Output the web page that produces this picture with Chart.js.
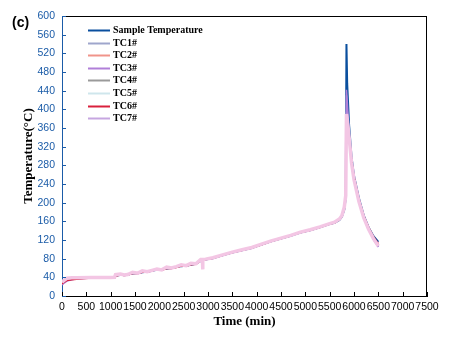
<!DOCTYPE html>
<html><head><meta charset="utf-8">
<script src="https://cdn.jsdelivr.net/npm/chart.js@4.4.1/dist/chart.umd.min.js"></script>
<style>html,body{margin:0;padding:0;background:#fff;}#wrap{width:453px;height:338px;}</style>
</head><body><div id="wrap"><canvas id="c" width="453" height="338"></canvas></div>
<script>
const time = [0,50,100,200,300, 600,1000,1080,1100,1200, 1280,1350,1450,1560,1650, 1750,1850,1950,2050,2150, 2250,2350,2450,2550,2650, 2750,2850,2885,2890,2895, 2950,3100,3300,3500,3700, 3900,4100,4300,4500,4700, 4900,5100,5300,5500,5600, 5700,5750,5800,5830,5845, 5860,5900,5950,6000,6100, 6200,6300,6400,6500];
const sampleTemp = [28,32,35,37,38, 39,39,39.5,44,45, 45,46,48,49,51, 52,54,56,57,59, 60,62,64,65,67, 69,75,76,76,77, 78,81,87,93,98, 103,110,117,123,129, 136,141,147,154,157, 163,170,185,210,540, 455,365,297,258,210, 173,147,128,116];
const tc1 = [25,29,33,36,37, 38.5,39,39.5,44,45, 44,45,49,48,52, 51,54,56,55,60, 59,62,65,64,68, 68,76,77,77,77, 78,81,87,93,98, 103,110,117,123,129, 136,141,147,154,157, 164,171,188,212,430, 400,350,292,252,205, 169,144,124,106];
const tc2 = [29,33,36,38,38.5, 39,39,39.5,45,46, 45,46,49,49,52, 52,55,57,56,60, 60,62,65,65,68, 69,76,77,77,77, 78,81,87,93,98, 104,111,117,123,130, 136,141,147,154,157, 164,171,187,212,380, 375,340,288,252,206, 170,145,125,110];
const tc3 = [24,28,32,35,37, 38.5,39,39.5,44,45, 44,45,50,48,52, 51,54,57,55,60, 59,62,66,64,69, 68,77,77,77,77, 78,81,87,93,98, 104,111,118,124,130, 137,142,148,155,158, 165,172,189,214,442, 420,345,288,250,203, 167,142,121,105];
const tc4 = [27,31,35,37,38, 39,39,39.5,45,46, 45,46,49,49,52, 52,55,57,56,60, 60,62,65,65,68, 69,76,77,77,77, 78,81,87,93,98, 104,110,117,123,129, 136,141,147,154,157, 164,171,187,211,380, 375,340,288,251,205, 169,144,124,108];
const tc5 = [29,33,36,38,38.5, 39,39.5,40,45,46, 45,46,50,49,53, 52,55,57,56,61, 60,63,66,65,69, 69,77,77,77,77, 79,82,88,94,99, 104,111,118,124,130, 137,142,148,155,158, 165,172,189,213,385, 380,340,287,250,204, 168,143,123,107];
const tc6 = [26,30,33,35,36, 38.5,39,39.5,43,45, 44,45,48,48,51, 51,54,56,55,59, 59,61,64,64,67, 68,75,76,76,76, 78,81,87,93,98, 103,110,117,123,129, 136,141,147,154,157, 164,171,186,211,380, 378,345,292,256,208, 172,147,127,112];
const tc7 = [30,34,38,39,39, 39.5,39.5,40,46,47, 45,46,51,49,54, 52,55,58,56,62, 60,63,67,65,70, 69,78,78,57,78, 79,82,88,94,99, 104,111,118,124,130, 137,142,148,155,158, 165,172,190,215,390, 380,340,285,250,203, 168,143,123,107];

const seriesNames = ['Sample Temperature','TC1#','TC2#','TC3#','TC4#','TC5#','TC6#','TC7#'];
const seriesValues = [sampleTemp, tc1, tc2, tc3, tc4, tc5, tc6, tc7];
const lineColors = ['#0a4f9e','#9fa6cc','#f0948a','#b07fd8','#9a9a9a','#cfe6ec','#d9203c','#f3c6e4'];
const legendColors = ['#0a4f9e','#9fa6cc','#f0948a','#b07fd8','#9a9a9a','#cfe6ec','#d9203c','#c6a6e0'];
const lineWidths = [2,1.5,1.5,1.5,1.5,1.5,1.5,3.5];
const drawOrder = [8,4,5,3,6,7,2,0];
const xTicks = [0,500,1000,1500,2000,2500,3000,3500,4000,4500,5000,5500,6000,6500,7000,7500];
const yTicks = [0,40,80,120,160,200,240,280,320,360,400,440,480,520,560,600];
const BLUE = '#1b5ca8';

const datasets = seriesNames.map((name, i) => ({
  label: name,
  data: time.map((t, k) => ({x: t, y: seriesValues[i][k]})),
  borderColor: lineColors[i],
  backgroundColor: lineColors[i],
  borderWidth: lineWidths[i],
  pointRadius: 0,
  tension: 0,
  order: drawOrder[i]
}));

const decor = {
  id: 'decor',
  afterDraw(chart) {
    const ctx = chart.ctx;
    const {left, right, top, bottom} = chart.chartArea;
    const xs = chart.scales.x, ys = chart.scales.y;
    ctx.save();
    ctx.lineWidth = 1;
    ctx.strokeStyle = '#000';
    ctx.beginPath();
    ctx.moveTo(left, top + 0.5); ctx.lineTo(right, top + 0.5);
    ctx.moveTo(right - 0.5, top); ctx.lineTo(right - 0.5, bottom);
    ctx.stroke();
    ctx.beginPath();
    xTicks.forEach(v => {
      const px = Math.round(xs.getPixelForValue(v)) + 0.5;
      ctx.moveTo(px, bottom); ctx.lineTo(px, bottom - 4);
    });
    ctx.stroke();
    ctx.strokeStyle = BLUE;
    ctx.beginPath();
    yTicks.forEach(v => {
      const py = Math.round(ys.getPixelForValue(v)) + 0.5;
      ctx.moveTo(left, py); ctx.lineTo(left + 4, py);
    });
    ctx.stroke();
    ctx.fillStyle = '#000';
    ctx.font = 'bold 14px "Liberation Sans", Arial, sans-serif';
    ctx.textAlign = 'left';
    ctx.textBaseline = 'middle';
    ctx.fillText('(c)', 12, 23);
    ctx.font = 'bold 10px "Liberation Serif", "Times New Roman", serif';
    seriesNames.forEach((name, i) => {
      const y = 30 + i * 12.6;
      ctx.strokeStyle = legendColors[i];
      ctx.lineWidth = 2;
      ctx.beginPath();
      ctx.moveTo(88, Math.round(y) + 0.5); ctx.lineTo(110, Math.round(y) + 0.5);
      ctx.stroke();
      ctx.fillStyle = '#000';
      ctx.fillText(name, 113, y + 0.5);
    });
    ctx.restore();
  }
};

new Chart(document.getElementById('c'), {
  type: 'line',
  data: { datasets },
  options: {
    responsive: false,
    animation: false,
    devicePixelRatio: 1,
    layout: { padding: { left: 0, top: 16, right: 26, bottom: 0 } },
    plugins: { legend: { display: false }, tooltip: { enabled: false } },
    scales: {
      x: {
        type: 'linear', min: 0, max: 7500,
        afterBuildTicks: s => { s.ticks = xTicks.map(v => ({value: v})); },
        afterFit: s => { s.height = 42; },
        grid: { display: false, drawTicks: false },
        border: { display: true, color: '#000', width: 1 },
        ticks: { autoSkip: false, maxRotation: 0, minRotation: 0, color: '#000', padding: 5,
                 callback: v => String(v),
                 font: { family: '"Liberation Sans", Arial, sans-serif', size: 10.5 } },
        title: { display: true, text: 'Time (min)', color: '#000',
                 font: { family: '"Liberation Serif", "Times New Roman", serif', size: 13, weight: 'bold' },
                 padding: { top: 0, bottom: 9 } }
      },
      y: {
        type: 'linear', min: 0, max: 600,
        afterBuildTicks: s => { s.ticks = yTicks.map(v => ({value: v})); },
        afterFit: s => { s.width = 62; },
        grid: { display: false, drawTicks: false },
        border: { display: true, color: BLUE, width: 1 },
        ticks: { autoSkip: false, color: BLUE, padding: 7,
                 callback: v => String(v),
                 font: { family: '"Liberation Sans", Arial, sans-serif', size: 10.5 } },
        title: { display: true, text: 'Temperature(°C)', color: '#000',
                 font: { family: '"Liberation Serif", "Times New Roman", serif', size: 13, weight: 'bold' },
                 padding: { top: 21, bottom: 0 } }
      }
    }
  },
  plugins: [decor]
});
</script></body></html>
